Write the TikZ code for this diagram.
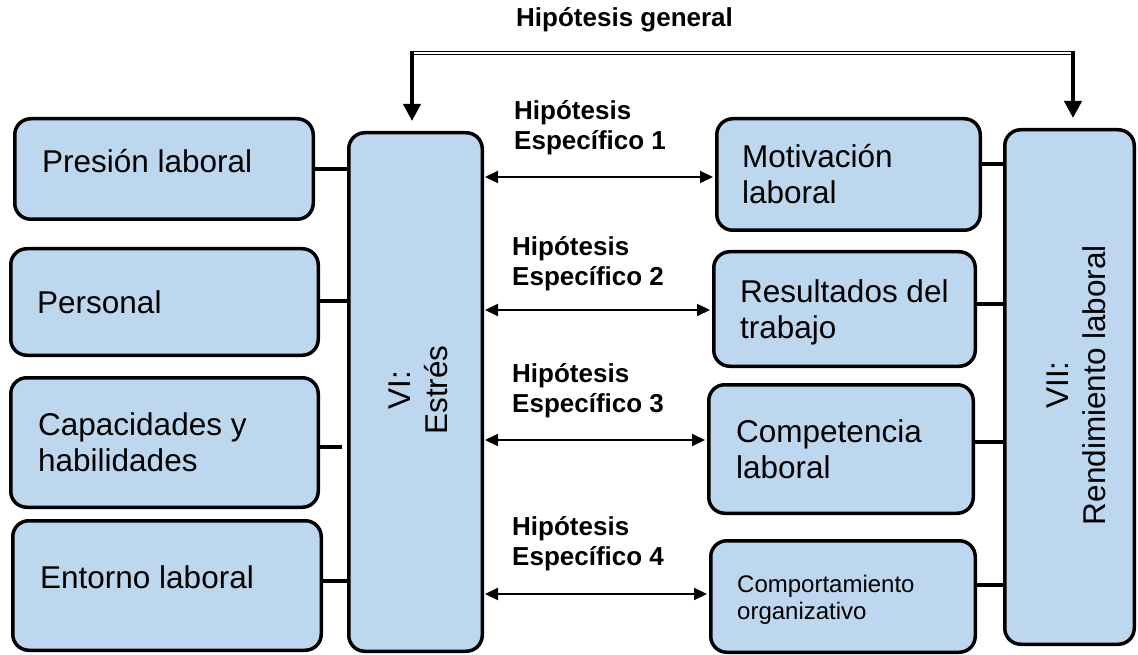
\documentclass[tikz,border=0pt]{standalone}
\usepackage{fontspec}
\setmainfont{Liberation Sans}
\usetikzlibrary{arrows.meta}
\definecolor{boxblue}{RGB}{189,215,238}
\newcommand{\stacklines}[1]{\begin{tabular}[t]{@{}l@{}}#1\end{tabular}}
\begin{document}
\begin{tikzpicture}[x=1pt,y=-1pt,
  box/.style={draw=black, fill=boxblue, line width=3.5pt, rounded corners=16pt, inner sep=0pt},
  boxtext/.style={anchor=base west, inner sep=0pt, font=\fontsize{31.5}{36}\selectfont},
  smalltext/.style={anchor=base west, inner sep=0pt, font=\fontsize{24}{27}\selectfont},
  vartext/.style={rotate=90, align=center, inner sep=0pt, font=\fontsize{31.5}{37}\selectfont},
  hyptext/.style={anchor=base west, inner sep=0pt, font=\fontsize{26}{30}\selectfont\bfseries},
  link/.style={draw=black, line width=3.5pt},
  hyparrow/.style={draw=black, line width=2pt, {Triangle[length=13pt,width=12pt]}-{Triangle[length=13pt,width=12pt]}, shorten <=1pt, shorten >=2pt},
  genline/.style={draw=black, line width=1.3pt, double=white, double distance=1.4pt},
  genarrow/.style={draw=black, line width=4pt, -{Triangle[length=17pt,width=17pt]}, shorten >=10pt}
]
\useasboundingbox (0,0) rectangle (1138,655);

% left column: stress dimensions
\node[box, minimum width=298.5pt, minimum height=100.5pt] (pres) at (164,169) {};
\node[box, minimum width=307.5pt, minimum height=106.5pt] (pers) at (164.5,302) {};
\node[box, minimum width=307.5pt, minimum height=129.5pt] (capa) at (164.5,442.5) {};
\node[box, minimum width=308.5pt, minimum height=129.5pt] (ento) at (167,585.5) {};

% independent variable
\node[box, minimum width=133.5pt, minimum height=518.5pt] (estres) at (415.5,392) {};

% right column: performance dimensions
\node[box, minimum width=263.5pt, minimum height=111.5pt] (moti) at (848.5,174.5) {};
\node[box, minimum width=261.5pt, minimum height=114.5pt] (resu) at (844.5,309) {};
\node[box, minimum width=264.5pt, minimum height=128.5pt] (comp) at (841,449) {};
\node[box, minimum width=264.5pt, minimum height=111.5pt] (orga) at (843,596.5) {};

% dependent variable
\node[box, minimum width=129.5pt, minimum height=514.5pt] (vii) at (1069.5,387) {};

% box texts
\node[boxtext] (tpres) at (42,173) {Presión laboral};
\node[boxtext] (tpers) at (37,313) {Personal};
\node[boxtext] (tcapa) at (38,435) {\stacklines{Capacidades y\\habilidades}};
\node[boxtext] (tento) at (40,588) {Entorno laboral};
\node[boxtext] (tmoti) at (742,168) {\stacklines{Motivación\\laboral}};
\node[boxtext] (tresu) at (740,302) {\stacklines{Resultados del\\trabajo}};
\node[boxtext] (tcomp) at (736,442) {\stacklines{Competencia\\laboral}};
\node[smalltext] (torga) at (737,592) {\stacklines{Comportamiento\\organizativo}};
\node[vartext] (testres) at (418,390) {VI:\\Estrés};
\node[vartext] (tvii) at (1076,385) {VII:\\Rendimiento laboral};

% dimension links
\draw[link] (pres.east |- 0,169) -- (estres.west |- 0,169);
\draw[link] (pers.east |- 0,301) -- (estres.west |- 0,301);
\draw[link, shorten >=5pt] (capa.east |- 0,447) -- (estres.west |- 0,447);
\draw[link] (ento.east |- 0,581) -- (estres.west |- 0,581);
\draw[link] (moti.east |- 0,164) -- (vii.west |- 0,164);
\draw[link] (resu.east |- 0,304) -- (vii.west |- 0,304);
\draw[link] (comp.east |- 0,442) -- (vii.west |- 0,442);
\draw[link] (orga.east |- 0,585) -- (vii.west |- 0,585);

% specific hypotheses
\draw[hyparrow] (estres.east |- 0,177) -- (moti.west |- 0,177);
\draw[hyparrow] (estres.east |- 0,310) -- (resu.west |- 0,310);
\draw[hyparrow] (estres.east |- 0,440) -- (comp.west |- 0,440);
\draw[hyparrow] (estres.east |- 0,594) -- (orga.west |- 0,594);

\node[hyptext] (h1) at (514,120) {\stacklines{Hipótesis\\Específico 1}};
\node[hyptext] (h2) at (512,255) {\stacklines{Hipótesis\\Específico 2}};
\node[hyptext] (h3) at (512,382) {\stacklines{Hipótesis\\Específico 3}};
\node[hyptext] (h4) at (512,535) {\stacklines{Hipótesis\\Específico 4}};

% general hypothesis
\node[hyptext] (hg) at (516,27) {Hipótesis general};
\coordinate (gl) at (412,53);
\coordinate (gr) at (1073,53);
\draw[genline] (gl) -- (gr);
\draw[genarrow] ([yshift=2pt]gl) -- (gl |- estres.north);
\draw[genarrow] ([yshift=2pt]gr) -- (gr |- vii.north);
\end{tikzpicture}
\end{document}
